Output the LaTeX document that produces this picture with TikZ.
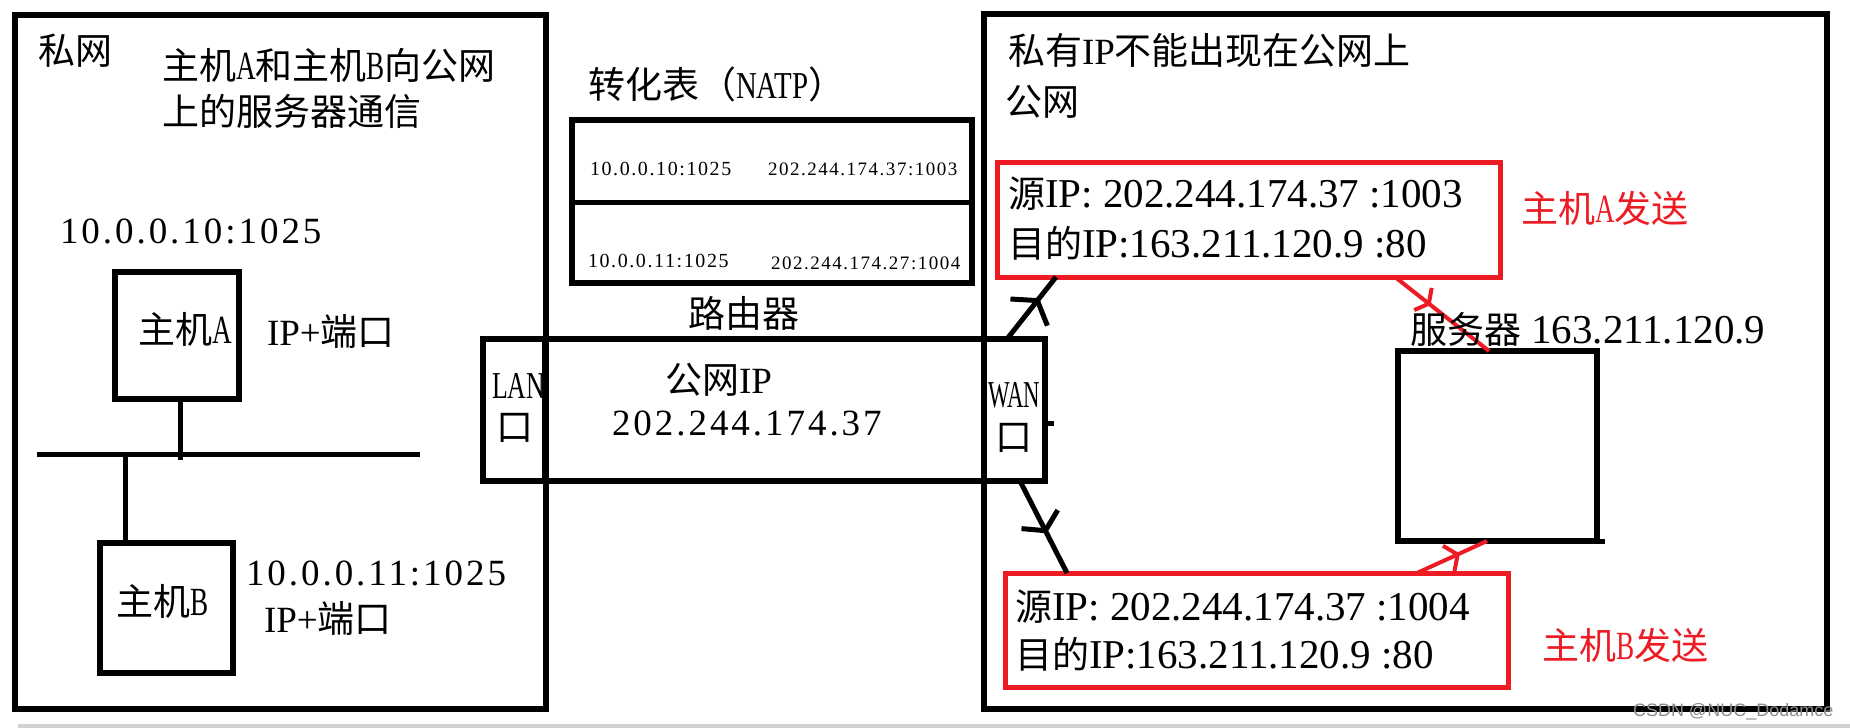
\documentclass[tikz,border=0pt]{standalone}
\usepackage{fontspec}
\setmainfont{Liberation Serif}
\newfontfamily\cjk{Noto Sans CJK SC}
\newfontfamily\wide{Liberation Serif}[LetterSpace=8]
\newfontfamily\narA{Liberation Serif}[FakeStretch=0.68]
\newfontfamily\narB{Liberation Serif}[FakeStretch=0.6]
\newfontfamily\narC{Liberation Serif}[FakeStretch=0.76]
\newfontfamily\wmfont{Liberation Sans}
\usetikzlibrary{calc}
\definecolor{pred}{RGB}{237,28,36}
\newcommand{\zh}[1]{{\cjk #1}}
\newcommand{\setfs}[1]{\fontsize{#1}{#1}\selectfont}
\newcommand{\nar}[1]{{\narA\setfs{40}#1}}
\tikzset{
  lbl/.style={inner sep=0pt, outer sep=0pt, anchor=base west},
  blk/.style={draw=black, line width=5.2pt, outer sep=0pt, inner sep=0pt, anchor=north west},
  redbox/.style={draw=pred, line width=5pt, outer sep=0pt, inner sep=0pt, anchor=north west},
  bline/.style={draw=black, line width=5pt},
  rline/.style={draw=pred, line width=4pt}
}
\begin{document}
\begin{tikzpicture}[x=1pt,y=-1pt]
\useasboundingbox (0,0) rectangle (1850,728);
\fill[white] (0,0) rectangle (1850,728);
\fill[black!18] (18,724) rectangle (1850,728);

% panels
\node[blk, minimum width=531, minimum height=694] (priv) at (15,15) {};
\node[blk, minimum width=843, minimum height=695] (pub) at (984,14) {};

% router
\node[blk, minimum width=562, minimum height=142] (router) at (483,339) {};
\node[blk, minimum width=62, minimum height=142] (lan) at (483,339) {};
\node[blk, minimum width=61, minimum height=142] (wan) at (984,339) {};

% NAT table
\node[blk, minimum width=400, minimum height=163] (tbl) at (572,120) {};
\draw[bline] ($(tbl.north west)+(0,82)$) -- ($(tbl.north east)+(0,82)$);

% hosts
\node[blk, minimum width=124, minimum height=127] (hostA) at (115,272) {};
\node[blk, minimum width=133, minimum height=130] (hostB) at (100,543) {};
\coordinate (busL) at (37,454);
\coordinate (busR) at (420,454);
\draw[bline] (busL) -- (busR);
\draw[bline] ([xshift=3pt]hostA.south) -- ([xshift=3pt]hostA.south |- 0,460);
\draw[bline] ([xshift=-41pt]hostB.north) -- ([xshift=-41pt]hostB.north |- busL);

% server
\node[blk, minimum width=199, minimum height=190] (server) at (1398,351) {};
\draw[bline] (server.south east) -- ++(8,0);

% red boxes
\node[redbox, minimum width=503, minimum height=115] (redA) at (997,162) {};
\node[redbox, minimum width=503, minimum height=114] (redB) at (1005,573) {};

% small tick at WAN
\draw[bline] ([yshift=-13pt]wan.east) -- ++(9,0);

% arrows: end points on nodes
\coordinate (s1) at ([xshift=23pt]wan.north west);
\coordinate (e1) at ([xshift=59pt]redA.south west);
\coordinate (s2) at ([xshift=36pt]wan.south west);
\coordinate (e2) at ([xshift=62pt]redB.north west);
\coordinate (s3) at ([xshift=398pt]redA.south west);
\coordinate (e3) at ([xshift=91pt]server.north west);
\coordinate (s4) at ([xshift=412pt]redB.north west);
\coordinate (e4) at ([xshift=89pt]server.south west);
\coordinate (t1) at ($(s1)!0.62!(e1)$);
\coordinate (t2) at ($(s2)!0.54!(e2)$);
\coordinate (t3) at ($(s3)!0.36!(e3)$);
\coordinate (t4) at ($(s4)!0.58!(e4)$);

\draw[bline] (s1) -- (e1);
\draw[bline] ($(t1)!27pt!60:(s1)$) -- (t1) -- ($(t1)!27pt!-55:(s1)$);
\draw[bline] (s2) -- (e2);
\draw[bline] ($(t2)!24pt!58:(s2)$) -- (t2) -- ($(t2)!24pt!-58:(s2)$);
\draw[rline] (s3) -- (e3);
\draw[rline] ($(t3)!16pt!62:(s3)$) -- (t3) -- ($(t3)!16pt!-62:(s3)$);
\draw[rline] (s4) -- (e4);
\draw[rline] ($(t4)!17pt!55:(s4)$) -- (t4) -- ($(t4)!17pt!-55:(s4)$);

% texts left
\node[lbl] (tPriv) at (38,64) {\setfs{37}\zh{私网}};
\node[lbl] (tDesc1) at (162,79) {\setfs{37}\zh{主机}\nar{A}\zh{和主机}\nar{B}\zh{向公网}};
\node[lbl] (tDesc2) at (162,125) {\setfs{37}\zh{上的服务器通信}};
\node[lbl] (ipA) at (60,243) {\setfs{37}\wide 10.0.0.10:1025};
\node[lbl] (tHostA) at (138,343) {\setfs{37}\zh{主机}\nar{A}};
\node[lbl] (portA) at (267,345) {\setfs{37}IP+\zh{端口}};
\node[lbl] (ipB) at (246,585) {\setfs{37}\wide 10.0.0.11:1025};
\node[lbl] (portB) at (264,632) {\setfs{37}IP+\zh{端口}};
\node[lbl] (tHostB) at (116,615) {\setfs{37}\zh{主机}\nar{B}};

% NAT table texts
\node[lbl] (natTitle) at (588,98) {\setfs{37}\zh{转化表（}{\narC\setfs{38}NATP}\zh{）}};
\node[lbl] (r1L) at (590,175) {\setfs{20}\wide 10.0.0.10:1025};
\node[lbl] (r1R) at (768,175) {\setfs{19}\wide 202.244.174.37:1003};
\node[lbl] (r2L) at (588,267) {\setfs{20}\wide 10.0.0.11:1025};
\node[lbl] (r2R) at (771,269) {\setfs{19}\wide 202.244.174.27:1004};

% router texts
\node[lbl] (tRouter) at (688,327) {\setfs{37}\zh{路由器}};
\node[lbl] (tLan) at (492,398) {\narA\setfs{38}LAN};
\node[lbl] (tLanK) at (496,440) {\setfs{37}\zh{口}};
\node[lbl] (tPubIP) at (665,393) {\setfs{37}\zh{公网}IP};
\node[lbl] (tPubNum) at (612,435) {\setfs{37}\wide 202.244.174.37};
\node[lbl] (tWan) at (988,407) {\narB\setfs{38}WAN};
\node[lbl] (tWanK) at (995,450) {\setfs{37}\zh{口}};

% right texts
\node[lbl] (tR1) at (1008,64) {\setfs{37}\zh{私有}IP\zh{不能出现在公网上}};
\node[lbl] (tR2) at (1005,115) {\setfs{37}\zh{公网}};
\node[lbl] (a1) at (1008,207) {\setfs{41}\zh{\setfs{37}源}IP: 202.244.174.37 :1003};
\node[lbl] (a2) at (1008,257) {\setfs{41}\zh{\setfs{37}目的}IP:163.211.120.9 :80};
\node[lbl] (b1) at (1015,620) {\setfs{41}\zh{\setfs{37}源}IP: 202.244.174.37 :1004};
\node[lbl] (b2) at (1015,668) {\setfs{41}\zh{\setfs{37}目的}IP:163.211.120.9 :80};
\node[lbl, text=pred] (sendA) at (1521,222) {\setfs{37}\zh{主机}\nar{A}\zh{发送}};
\node[lbl, text=pred] (sendB) at (1542,659) {\setfs{37}\zh{主机}\nar{B}\zh{发送}};
\node[lbl] (srvLbl) at (1410,343) {\setfs{41}\zh{\setfs{37}服务器} 163.211.120.9};

% watermark
\node[lbl, text=black!45] (wm) at (1633,716) {\setfs{18}\wmfont CSDN @NUC\_Dodamce};
\end{tikzpicture}
\end{document}
